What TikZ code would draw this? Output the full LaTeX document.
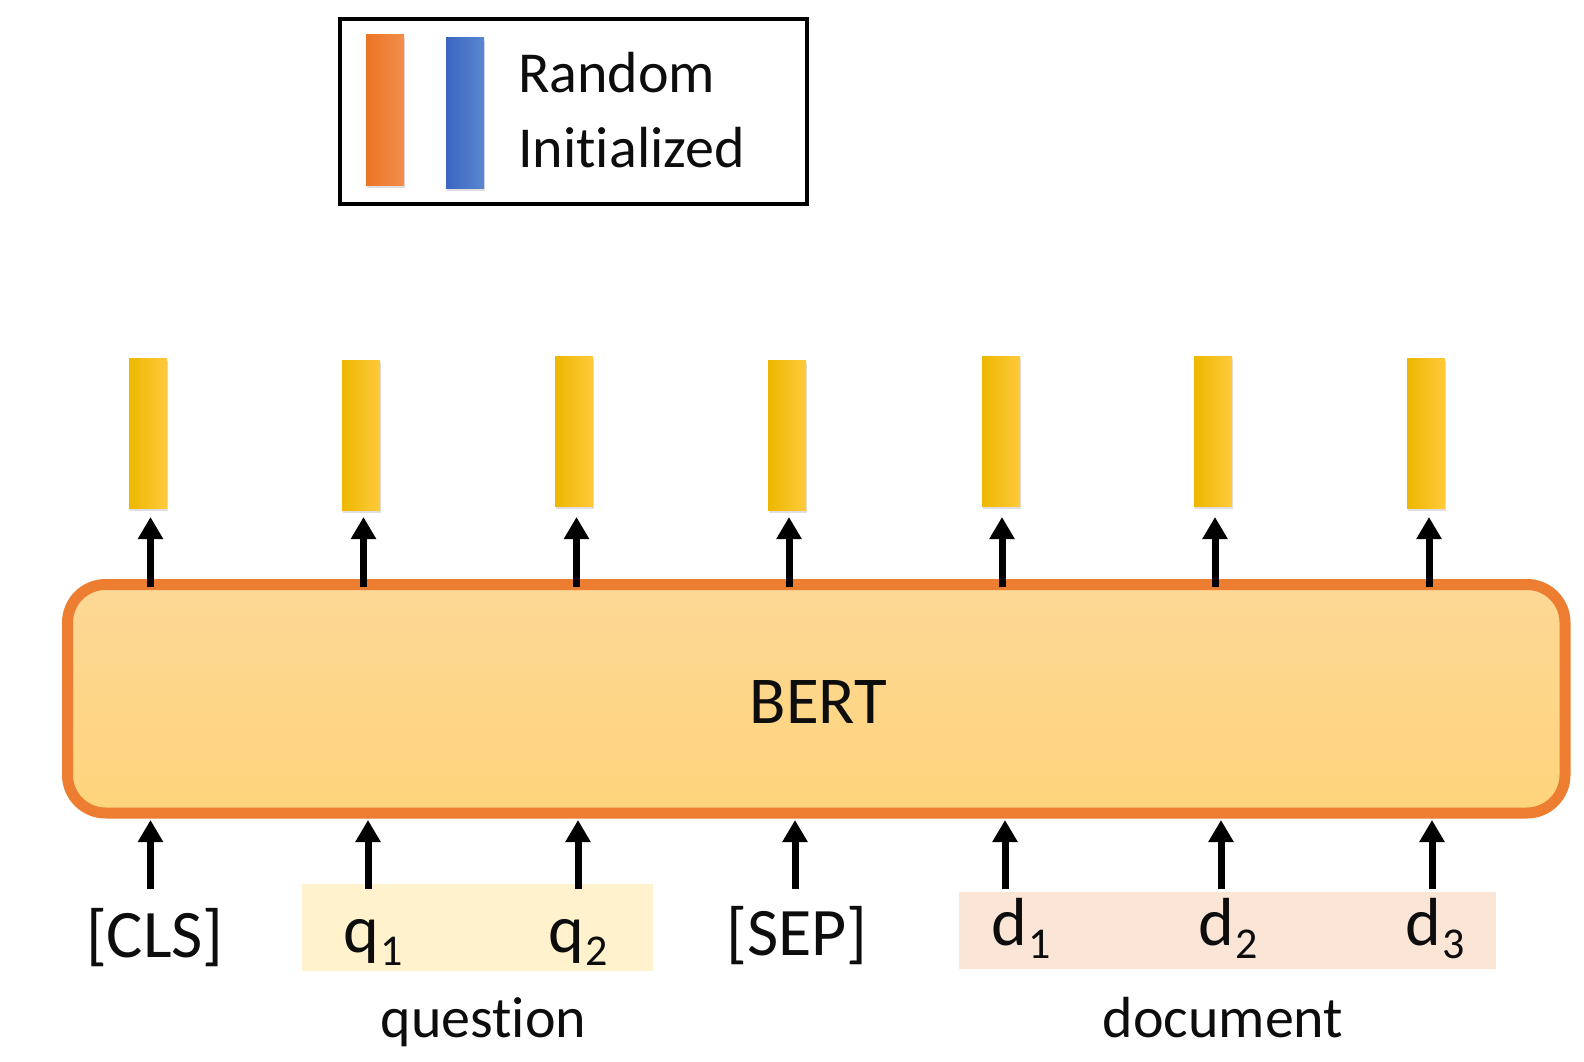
\documentclass[tikz,border=0pt]{standalone}
\usepackage{fontspec}
\setmainfont{Carlito}[Ligatures={NoCommon}]
\usetikzlibrary{arrows.meta,shadows}
\definecolor{bertedge}{HTML}{ED7D31}
\definecolor{berttop}{HTML}{FDD896}
\definecolor{bertbot}{HTML}{FED47B}
\definecolor{ybL}{HTML}{EDB700}
\definecolor{ybM}{HTML}{FFC200}
\definecolor{ybR}{HTML}{FFCA3C}
\definecolor{obL}{HTML}{EC7424}
\definecolor{obR}{HTML}{F28E4E}
\definecolor{bbL}{HTML}{3A66C2}
\definecolor{bbR}{HTML}{5B86D0}
\definecolor{qbg}{HTML}{FFF2CC}
\definecolor{dbg}{HTML}{FBE5D6}
\definecolor{ink}{HTML}{0D0D0D}
\begin{document}
\begin{tikzpicture}[x=1pt,y=-1pt,
  bar/.style={minimum width=38pt,minimum height=150pt,inner sep=0pt,
    drop shadow={shadow xshift=0.5pt,shadow yshift=-3pt,opacity=0.25},
    left color=ybL,middle color=ybM,right color=ybR},
  legbar/.style={minimum width=38pt,minimum height=150pt,inner sep=0pt,
    drop shadow={shadow xshift=0.5pt,shadow yshift=-3pt,opacity=0.25}},
  arr/.style={line width=7pt,-{Triangle[width=24pt,length=22pt]},draw=black},
  tok/.style={font=\fontsize{68}{68}\selectfont,text=ink,inner sep=0pt},
  lbl/.style={font=\fontsize{58}{58}\selectfont,text=ink,inner sep=0pt},
]
\useasboundingbox (0,0) rectangle (1584,1062);

% legend
\node[draw=black,line width=4pt,minimum width=467pt,minimum height=185pt,inner sep=0pt] (legend) at (573.5,111.5) {};
\node[legbar,left color=obL,right color=obR] (lo) at (385,110) {};
\node[legbar,left color=bbL,right color=bbR] (lb) at (465,113) {};
\node[lbl,anchor=base west] (lr) at (518,93) {Random};
\node[lbl,anchor=base west] (li) at (518,167) {Initialized};

% BERT box
\shade[top color=berttop,bottom color=bertbot,rounded corners=38pt]
  (67.5,584.5) rectangle (1565,813);
\draw[bertedge,line width=11pt,rounded corners=38pt]
  (67.5,584.5) rectangle (1565,813);
\node[inner sep=0pt] (bert) at (816,701.5) {};
\node[font=\fontsize{67}{67}\selectfont,text=ink,anchor=base] (berttxt) at (818.5,723) {BERT};

% highlight backgrounds
\node[fill=qbg,minimum width=351pt,minimum height=87pt,inner sep=0pt] (qbox) at (477.5,927.5) {};
\node[fill=dbg,minimum width=537pt,minimum height=77pt,inner sep=0pt] (dbox) at (1227.5,930.5) {};

% output bars
\foreach \i/\x/\y in {1/148/433,2/361/435,3/574/431,4/787/435,5/1001/431,6/1213/431,7/1426/433}{
  \node[bar] (b\i) at (\x,\y) {};
}

% top arrows
\foreach \i/\x in {1/150.5,2/363.5,3/576.5,4/789,5/1002,6/1215,7/1429}{
  \coordinate (ta\i) at (\x,587);
  \coordinate (tb\i) at (\x,517);
  \draw[arr] (ta\i) -- (tb\i);
}

% bottom arrows
\foreach \i/\x in {1/150.5,2/368,3/578,4/795,5/1005,6/1221,7/1432}{
  \coordinate (ba\i) at (\x,889);
  \coordinate (bb\i) at (\x,820);
  \draw[arr] (ba\i) -- (bb\i);
}

% tokens
\newcommand{\tksub}[1]{\raisebox{-13pt}{\fontsize{44}{44}\selectfont #1}}
\node[tok,anchor=base] (cls) at (155,957) {[CLS]};
\node[tok,anchor=base west] (q1) at (343,952) {q\kern2pt\tksub{1}};
\node[tok,anchor=base west] (q2) at (548,952) {q\kern2pt\tksub{2}};
\node[tok,anchor=base] (sep) at (797,955) {[SEP]};
\node[tok,anchor=base west] (d1) at (991,945) {d\kern2pt\tksub{1}};
\node[tok,anchor=base west] (d2) at (1198,945) {d\kern2pt\tksub{2}};
\node[tok,anchor=base west] (d3) at (1405,945) {d\kern2pt\tksub{3}};

\node[lbl,anchor=base] (question) at (483.5,1037) {question};
\node[lbl,anchor=base] (document) at (1223,1037) {document};
\end{tikzpicture}
\end{document}
